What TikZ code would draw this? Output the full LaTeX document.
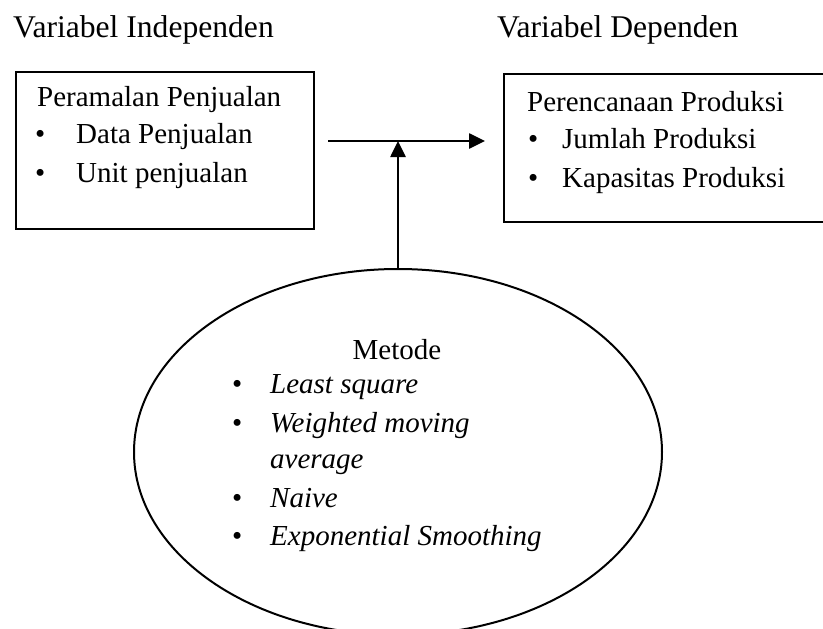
\documentclass[tikz,border=0pt]{standalone}
\usepackage{fontspec}
\setmainfont{Liberation Serif}
\usetikzlibrary{arrows.meta,shapes.geometric}
\begin{document}
\begin{tikzpicture}[x=1pt,y=-1pt,
  txt/.style={inner sep=0pt, anchor=base west, font=\fontsize{29}{35}\selectfont},
  itx/.style={inner sep=0pt, anchor=base west, font=\fontsize{29}{35}\selectfont\itshape},
  head/.style={inner sep=0pt, anchor=base west, font=\fontsize{31.6}{38}\selectfont},
  boxst/.style={draw, line width=2pt, rectangle, inner sep=0pt, anchor=north west},
  conn/.style={line width=2.6pt, -{Triangle[length=16pt,width=15pt]}}]
\useasboundingbox (0,0) rectangle (823,629);
\fill[white] (0,0) rectangle (823,629);
% headings
\node[head] (h1) at (13,37) {Variabel Independen};
\node[head] (h2) at (497,37) {Variabel Dependen};
% boxes
\node[boxst, minimum width=298pt, minimum height=157pt] (lbox) at (15,71) {};
\node[boxst, minimum width=330pt, minimum height=148pt] (rbox) at (503,73) {};
% left box text
\node[txt] (l0) at (37,106) {Peramalan Penjualan};
\node[txt] (lb1) at (35,143) {•};
\node[txt] (l1) at (76,143) {Data Penjualan};
\node[txt] (lb2) at (35,182) {•};
\node[txt] (l2) at (76,182) {Unit penjualan};
% right box text
\node[txt] (r0) at (527,111) {Perencanaan Produksi};
\node[txt] (rb1) at (528,148) {•};
\node[txt] (r1) at (562,148) {Jumlah Produksi};
\node[txt] (rb2) at (528,187) {•};
\node[txt] (r2) at (562,187) {Kapasitas Produksi};
% ellipse
\node[draw, ellipse, line width=2pt, minimum width=528pt, minimum height=366pt, inner sep=0pt] (ell) at (398,452) {};
\node[inner sep=0pt, anchor=base, font=\fontsize{29}{35}\selectfont] (m0) at (397,359) {Metode};
\node[txt] (mb1) at (232,393) {•};
\node[itx] (m1) at (270,393) {Least square};
\node[txt] (mb2) at (232,432) {•};
\node[itx] (m2) at (270,432) {Weighted moving};
\node[itx] (m3) at (270,468) {average};
\node[txt] (mb4) at (232,507) {•};
\node[itx] (m4) at (270,507) {Naive};
\node[txt] (mb5) at (232,545) {•};
\node[itx] (m5) at (270,545) {Exponential Smoothing};
% connectors
\coordinate (hs) at (328,141);
\coordinate (he) at (485,141);
\draw[conn] (hs) -- (he);
\draw[conn] (ell.north) -- (ell.north |- hs);
\end{tikzpicture}
\end{document}
